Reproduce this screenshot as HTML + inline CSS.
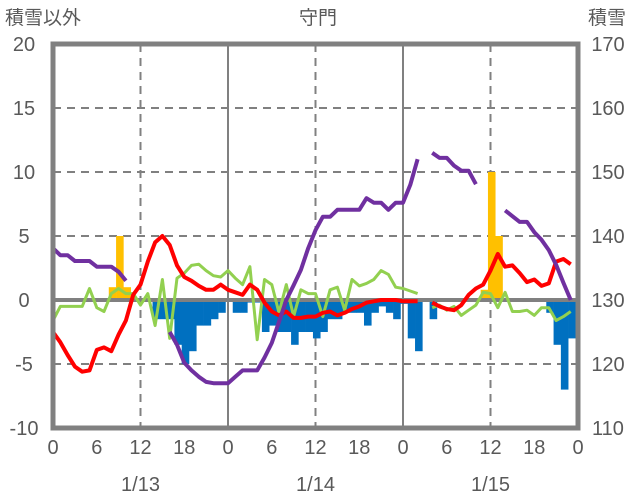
<!DOCTYPE html>
<html><head><meta charset="utf-8"><style>
html,body{margin:0;padding:0;background:#fff;}
svg{display:block;font-family:"Liberation Sans","Noto Sans CJK JP",sans-serif;}
</style></head><body>
<svg id="chart" width="636" height="501" viewBox="0 0 636 501">
<g id="grid"></g>
<g id="bars"></g>
<g id="lines"></g>
<rect x="53" y="44" width="525" height="384" fill="none" stroke="#808080" stroke-width="5"/>
<g id="labels" fill="#595959" font-size="20"></g>
<text x="5" y="24" font-size="19" fill="#595959">積雪以外</text>
<text x="318" y="24" font-size="19" fill="#595959" text-anchor="middle">守門</text>
<text x="588" y="24" font-size="19" fill="#595959">積雪</text>
</svg>
<script>
const leftTicks=[20,15,10,5,0,-5,-10];
const rightTicks=[170,160,150,140,130,120,110];
const hourTicks=[0,6,12,18,0,6,12,18,0,6,12,18,0];
const dateLabels=["1/13","1/14","1/15"];
const N=null;
const redSeries=[-2.5,-3.3,-4.3,-5.2,-5.6,-5.5,-3.9,-3.7,-4,-2.7,-1.6,0.4,1.2,3,4.5,5,4.3,2.7,1.8,1.5,1.1,0.8,0.8,1.2,0.8,0.6,0.4,1.2,0.8,-0.2,-0.9,-1.2,-0.9,-1.4,-1.4,-1.3,-1.3,-1,-0.9,-1.2,-1,-0.7,-0.5,-0.2,-0.1,0,0,0,-0.1,-0.1,-0.1,N,-0.2,-0.5,-0.7,-0.8,-0.4,0.4,0.9,1.2,2.3,3.6,2.6,2.7,2.1,1.4,1.6,1.1,1.3,3,3.2,2.8];
const greenSeries=[-1.6,-0.5,-0.5,-0.5,-0.5,0.9,-0.6,-0.9,0.5,0.9,0.5,0.5,-0.4,0.5,-2,1.6,-3,1.7,2.1,2.7,2.8,2.3,1.9,1.8,2.3,1.7,1.2,2.6,-3.1,1.6,1.2,-1,1.2,-1.3,0.8,0.5,0.5,-1.3,0.8,1,-0.8,1.6,1.1,1.3,1.6,2.3,2,1,0.9,0.7,0.5,N,-0.6,-0.4,-0.8,-0.5,-1.2,-0.8,-0.4,0.6,0.5,-0.6,0.6,-0.9,-0.9,-0.8,-1.2,-0.6,-0.6,-1.6,-1.3,-0.9];
const snowDepth=[138.1,137,137,136.1,136.1,136.1,135.2,135.2,135.2,134.4,133,N,N,N,N,N,125,123,120.2,119,118,117.2,117,117,117,118,119,119,119,121,123.3,126.6,130,132.3,134.7,138.1,140.9,143,143,144.1,144.1,144.1,144.1,145.9,145.2,145.2,144.1,145.2,145.2,148,152,N,153,152.2,152.2,151,150.2,150.2,148.1,N,N,N,144,143.1,142.2,142.2,140.6,139.4,137.8,135.5,132.7,130];
const snowfall=[0,0,0,0,0,0,0,0,1,5,1,0,0,0,0,0,0,0,0,0,0,0,0,0,0,0,0,0,0,0,0,0,0,0,0,0,0,0,0,0,0,0,0,0,0,0,0,0,0,0,0,0,0,0,0,0,0,0,0,0.8,10,5,0,0,0,0,0,0,0,0,0,0];
const settlement=[0,0,0,0,0,0,0,0,0,0,0,0,0,0,-1.5,-1.5,-1.5,-3.5,-5,-4,-2,-2,-1.5,-1,-0.1,-1,-1,-0.2,-0.2,-2.5,-2,-2.5,-2.5,-3.5,-2.5,-2.5,-3,-2.5,-1.5,-1.5,-1,-1,-1,-2,-1,-0.5,-1,-1.5,-0.3,-3,-4,0,-1.5,0,0,0,0,0,0,0,0,0,0,0,0,0,0,0,-1,-3.5,-7,-3];
const X0=53,X1=578,Y0=44,Y1=428;
const xs=h=>X0+(X1-X0)*h/72;
const yl=v=>Y1-(v+10)/30*(Y1-Y0);
const yr=v=>Y1-(v-110)/60*(Y1-Y0);
const NS="http://www.w3.org/2000/svg";
function mk(tag,attrs,parent){const e=document.createElementNS(NS,tag);for(const k in attrs)e.setAttribute(k,attrs[k]);parent.appendChild(e);return e;}
const grid=document.getElementById('grid'),bars=document.getElementById('bars'),lines=document.getElementById('lines'),labels=document.getElementById('labels');
leftTicks.forEach((v,i)=>{
  const y=yl(v);
  if(v!==20&&v!==-10&&v!==0){const l=mk('line',{x1:X0,x2:X1,y1:y,y2:y,stroke:'#808080','stroke-width':2,'stroke-dasharray':'8,6'},grid);
  
  }
  const t=mk('text',{x:24,y:y+7,'text-anchor':'middle'},labels);t.textContent=v;
  
  
  const t2=mk('text',{x:608,y:yr(rightTicks[i])+7,'text-anchor':'middle'},labels);t2.textContent=rightTicks[i];
  
  
});
hourTicks.forEach((v,i)=>{
  const h=i*6,x=xs(h);
  if(h%24===0&&h>0&&h<72){const l=mk('line',{x1:x,x2:x,y1:Y0,y2:Y1,stroke:'#808080','stroke-width':2},grid);
  
  }
  if(h%24===12){const l=mk('line',{x1:x,x2:x,y1:Y0,y2:Y1,stroke:'#808080','stroke-width':2,'stroke-dasharray':'8,6'},grid);
  
  }
  const t=mk('text',{x:x,y:454,'text-anchor':'middle'},labels);t.textContent=v;
  
  
});
dateLabels.forEach((d,i)=>{const t=mk('text',{x:xs(i*24+12),y:491,'text-anchor':'middle'},labels);t.textContent=d;
  
  });
const bw=(X1-X0)/72;
function drawBars(arr,color,name){arr.forEach((v,i)=>{if(!v)return;const cx=xs(i+0.15);
  const r=mk('rect',{x:cx-bw/2,width:bw+0.3,y:Math.min(yl(v),yl(0)),height:Math.abs(yl(v)-yl(0)),fill:color},bars);
  
  });}
drawBars(snowfall,'#ffc000','snowfall-bar');
drawBars(settlement,'#0070c0','settlement-bar');
const zl=mk('line',{x1:X0,x2:X1,y1:yl(0),y2:yl(0),stroke:'#808080','stroke-width':4},bars);


function drawLine(arr,yf,color,w,name){let d='',pen=false;arr.forEach((v,i)=>{if(v===null){pen=false;return;}d+=(pen?'L':'M')+xs(i).toFixed(1)+','+yf(v).toFixed(1);pen=true;});
  const p=mk('path',{d:d,fill:'none',stroke:color,'stroke-width':w,'stroke-linejoin':'round'},lines);
  
  }
drawLine(greenSeries,yl,'#92d050',3,'green-series-line');
drawLine(redSeries,yl,'#ff0000',4,'red-series-line');
drawLine(snowDepth,yr,'#7030a0',4,'snow-depth-line');
</script>
</body></html>
